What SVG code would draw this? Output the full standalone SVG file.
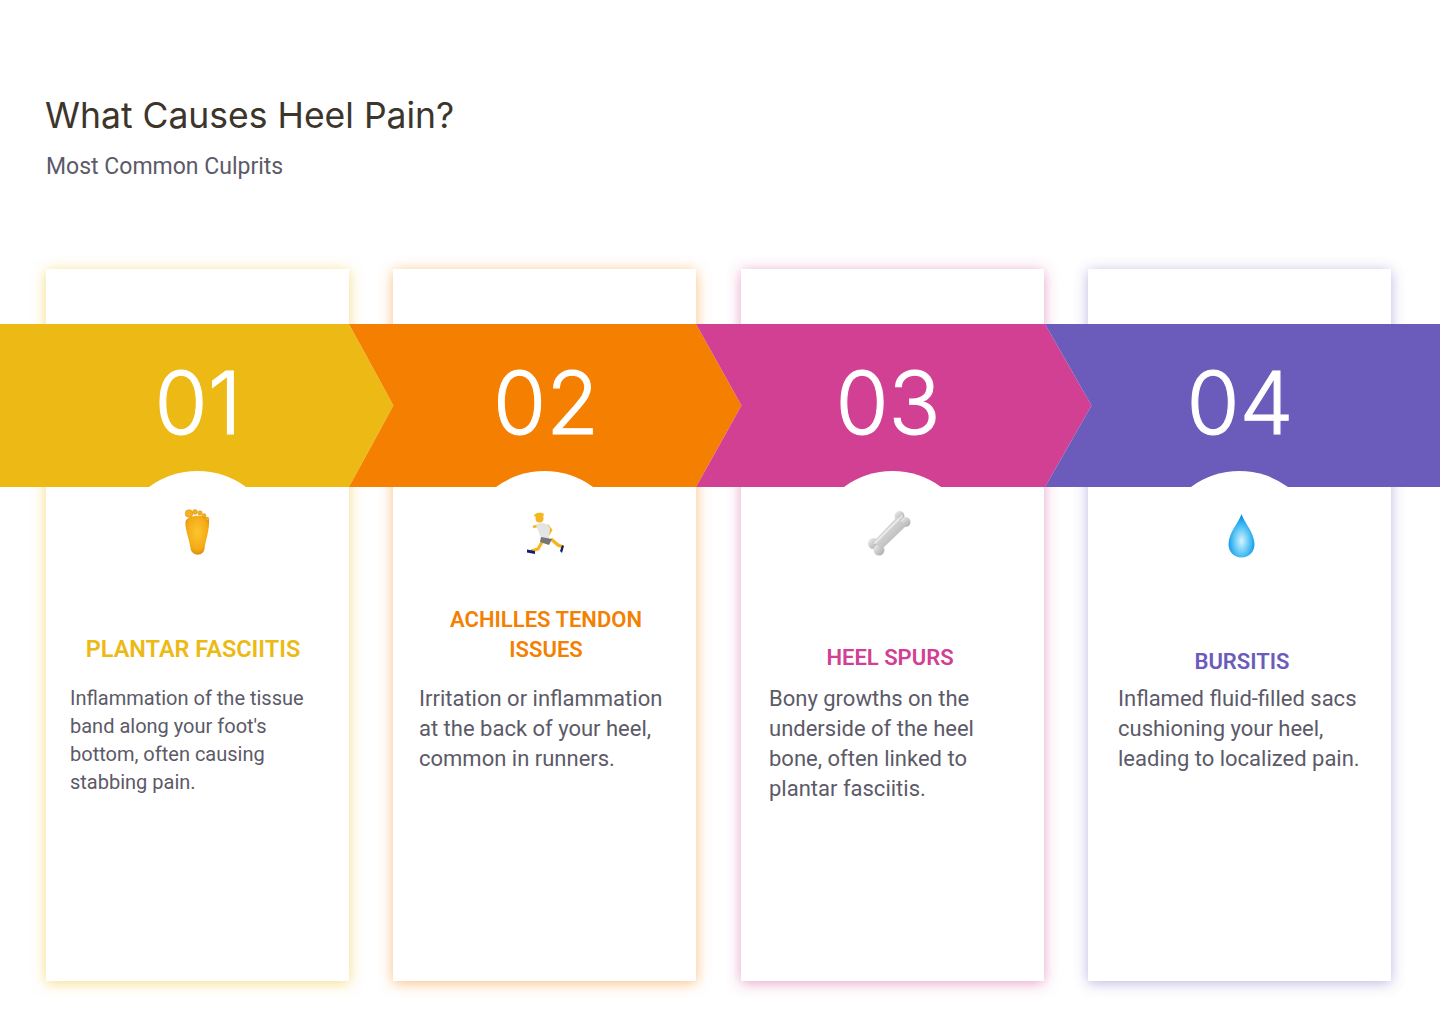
<svg xmlns="http://www.w3.org/2000/svg" width="1440" height="1024" viewBox="0 0 1440 1024">
<style>
.title{font:400 35.500px Inter,"Noto Sans",sans-serif;fill:#3b352c}
.sub{font:400 23px Roboto,sans-serif;fill:#5c5a68}
.num{font:300 86px Inter,"Open Sans",sans-serif;fill:#fff;stroke:#fff;stroke-width:1;text-anchor:middle}
.head{font:600 22px Roboto,sans-serif;text-anchor:middle}
.b1{font:400 20px Roboto,sans-serif;fill:#5c5a68}
.b2{font:400 22px Roboto,sans-serif;fill:#5c5a68}
</style>
<defs>
<filter id="s1" x="-15%" y="-5%" width="130%" height="110%"><feDropShadow dx="0" dy="2" stdDeviation="7" flood-color="#edb915" flood-opacity=".5"/></filter>
<filter id="s2" x="-15%" y="-5%" width="130%" height="110%"><feDropShadow dx="0" dy="2" stdDeviation="7" flood-color="#f47f00" flood-opacity=".5"/></filter>
<filter id="s3" x="-15%" y="-5%" width="130%" height="110%"><feDropShadow dx="0" dy="2" stdDeviation="7" flood-color="#d14093" flood-opacity=".5"/></filter>
<filter id="s4" x="-15%" y="-5%" width="130%" height="110%"><feDropShadow dx="0" dy="2" stdDeviation="7" flood-color="#6b5cbb" flood-opacity=".45"/></filter>
<radialGradient id="foot" cx=".5" cy=".42" r=".65"><stop offset="0" stop-color="#fcc62f"/><stop offset=".7" stop-color="#f4a914"/><stop offset="1" stop-color="#c9800f"/></radialGradient>
<linearGradient id="bone" x1="0" y1="0" x2="1" y2="1"><stop offset="0" stop-color="#f2f2f2"/><stop offset="1" stop-color="#a4a4a4"/></linearGradient>
<radialGradient id="drop" cx=".5" cy=".62" r=".55"><stop offset="0" stop-color="#d5f3ff"/><stop offset=".55" stop-color="#5cc6f5"/><stop offset="1" stop-color="#0594e8"/></radialGradient>
</defs>
<g id="title"><text class="title" x="45" y="128">What Causes Heel Pain?</text><text class="sub" x="46" y="174">Most Common Culprits</text></g>
<g id="card-shadows">
<rect x="46" y="269" width="303" height="712" fill="#fff" filter="url(#s1)"/>
<rect x="393" y="269" width="303" height="712" fill="#fff" filter="url(#s2)"/>
<rect x="741" y="269" width="303" height="712" fill="#fff" filter="url(#s3)"/>
<rect x="1088" y="269" width="303" height="712" fill="#fff" filter="url(#s4)"/>
</g>
<g id="node-1">
<polygon points="0,324 349,324 393.500,405.500 349,487 0,487" fill="#edb915"/>
<path d="M149,487A81.500,81.500 0 0 1 246,487Z" fill="#fff"/>
<text class="num" x="198" y="434">01</text>
<g id="icon-foot"><path d="M185.500,522C185,530 189,538 190.500,548C191.500,556.500 203,557 204.500,549C205.500,540 209.500,531 209,520C206,514 187,514 185.500,522Z" fill="url(#foot)"/><g fill="#f6b020" stroke="#d58c12" stroke-width=".5"><circle cx="189" cy="513.500" r="3.800"/><circle cx="195" cy="512" r="2.400"/><circle cx="200" cy="513" r="2.200"/><circle cx="204" cy="515.500" r="2"/><circle cx="207" cy="519" r="1.900"/></g></g>
<text class="head" x="193" y="657" style="font-size:23.500px" fill="#edb915">PLANTAR FASCIITIS</text>
<text class="b1"><tspan x="70" y="705">Inflammation of the tissue</tspan><tspan x="70" y="733">band along your foot's</tspan><tspan x="70" y="761">bottom, often causing</tspan><tspan x="70" y="789">stabbing pain.</tspan></text>
</g>
<g id="node-2">
<polygon points="349,324 696,324 741.500,405.500 696,487 349,487 393.500,405.500" fill="#f47f00"/>
<path d="M496,487A81.500,81.500 0 0 1 593,487Z" fill="#fff"/>
<text class="num" x="546" y="434">02</text>
<g id="icon-runner">
<path d="M545,537L538,549L531,551M551,539L558,545L563,547" fill="none" stroke="#f6b51e" stroke-width="3.200"/>
<path d="M537,526L533,527M547,525L551,530L548,535" fill="none" stroke="#f6b51e" stroke-width="2.600"/>
<path d="M536,525C541,521 548,524 550,528L549,539L541,538Z" fill="#e4e4e4"/>
<path d="M541,537L552,539L549,545L540,542Z" fill="#767676"/>
<circle cx="539.500" cy="518.500" r="4" fill="#f6b51e"/><path d="M534,516.500C534,512 542,512 544,514L543,517L538,516.500Z" fill="#f4b81f"/>
<path d="M527,549.500L535,551L535,554L527,552.500ZM562,545L564,546L562,553L560,551Z" fill="#14206b"/>
</g>
<text class="head" x="546" y="627" fill="#f47f00">ACHILLES TENDON</text><text class="head" x="546" y="657" fill="#f47f00">ISSUES</text>
<text class="b2"><tspan x="419" y="706">Irritation or inflammation</tspan><tspan x="419" y="736">at the back of your heel,</tspan><tspan x="419" y="766">common in runners.</tspan></text>
</g>
<g id="node-3">
<polygon points="696,324 1045,324 1091.500,405.500 1045,487 696,487 741.500,405.500" fill="#d14093"/>
<path d="M844,487A81.500,81.500 0 0 1 941,487Z" fill="#fff"/>
<text class="num" x="888" y="434">03</text>
<g id="icon-bone" fill="url(#bone)"><circle cx="873.500" cy="543.500" r="5.500"/><circle cx="879" cy="550" r="5.500"/><circle cx="899.500" cy="516" r="5"/><circle cx="905.500" cy="522" r="5"/><path d="M874,541L897,517L906,526L881,550Z"/><path d="M875,543L902,516" stroke="#f4f4f4" stroke-width="2" stroke-linecap="round" fill="none" opacity=".7"/></g>
<text class="head" x="890" y="665" fill="#d14093">HEEL SPURS</text>
<text class="b2"><tspan x="769" y="706">Bony growths on the</tspan><tspan x="769" y="736">underside of the heel</tspan><tspan x="769" y="766">bone, often linked to</tspan><tspan x="769" y="796">plantar fasciitis.</tspan></text>
</g>
<g id="node-4">
<polygon points="1045,324 1440,324 1440,487 1045,487 1091.500,405.500" fill="#6b5cbb"/>
<path d="M1191,487A81.500,81.500 0 0 1 1288,487Z" fill="#fff"/>
<text class="num" x="1240" y="434">04</text>
<path id="icon-drop" d="M1241.500,514C1238,524 1229,532 1228.500,544C1228.500,552 1234,557.500 1241.500,557.500C1249,557.500 1254.500,552 1254.500,544C1254,532 1245,524 1241.500,514Z" fill="url(#drop)"/>
<text class="head" x="1242" y="669" fill="#6b5cbb">BURSITIS</text>
<text class="b2"><tspan x="1118" y="706">Inflamed fluid-filled sacs</tspan><tspan x="1118" y="736">cushioning your heel,</tspan><tspan x="1118" y="766">leading to localized pain.</tspan></text>
</g>
</svg>
